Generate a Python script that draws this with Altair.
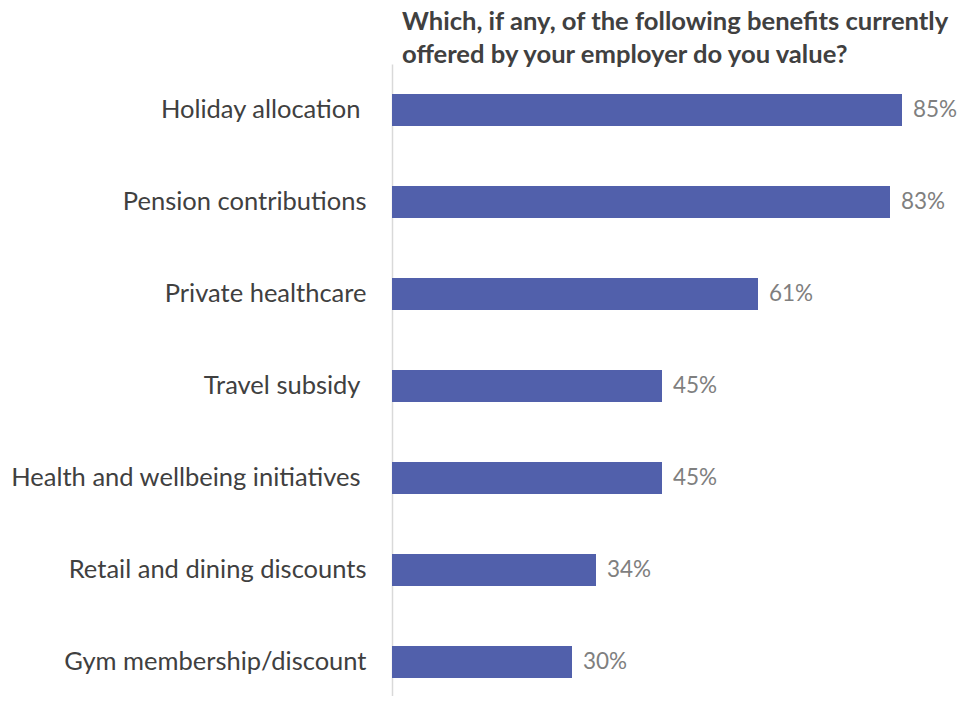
import altair as alt
import pandas as pd

categories = [
    "Holiday allocation ",
    "Pension contributions",
    "Private healthcare",
    "Travel subsidy ",
    "Health and wellbeing initiatives ",
    "Retail and dining discounts",
    "Gym membership/discount",
]
values = [85, 83, 61, 45, 45, 34, 30]
value_labels = ["85%", "83%", "61%", "45%", "45%", "34%", "30%"]
title_lines = [
    "Which, if any, of the following benefits currently",
    "offered by your employer do you value?",
]

df = pd.DataFrame({"category": categories, "value": values, "label": value_labels})

FONT = "Lato"

y_enc = alt.Y(
    "category:N",
    sort=categories,
    title=None,
    scale=alt.Scale(paddingInner=0, paddingOuter=0, range=[0, 644]),
    axis=alt.Axis(
        domainColor="#d9d9d9",
        domainWidth=1.5,
        ticks=False,
        labelFontSize=25.5,
        labelColor="#404040",
        labelFont=FONT,
        labelPadding={
            "condition": {
                "test": "substring(datum.label, length(datum.label) - 1) == ' '",
                "value": 32,
            },
            "value": 26,
        },
        labelLimit=400,
        grid=False,
    ),
)
x_enc = alt.X("value:Q", scale=alt.Scale(domain=[0, 85], nice=False), axis=None)

bars = alt.Chart(df).mark_bar(size=32, color="#5160AB").encode(x=x_enc, y=y_enc)
text = alt.Chart(df).mark_text(
    align="left", baseline="middle", dx=11, fontSize=22.5, color="#7f7f7f", font=FONT
).encode(x=x_enc, y=y_enc, text="label:N")

chart = (
    alt.layer(bars, text)
    .properties(
        width=510,
        height=632,
        autosize=alt.AutoSizeParams(type="none"),
        padding={"left": 384, "top": 56, "right": 56, "bottom": 0},
        title=alt.TitleParams(
            text=title_lines,
            anchor="start",
            frame="group",
            baseline="alphabetic",
            fontSize=25.6,
            fontWeight="bold",
            font=FONT,
            color="#404040",
            lineHeight=33,
            dx=10,
            offset=-25,
            limit=600,
        ),
    )
    .configure_view(stroke=None)
)

chart.save("out.html", embed_options={"renderer": "svg", "actions": False})
